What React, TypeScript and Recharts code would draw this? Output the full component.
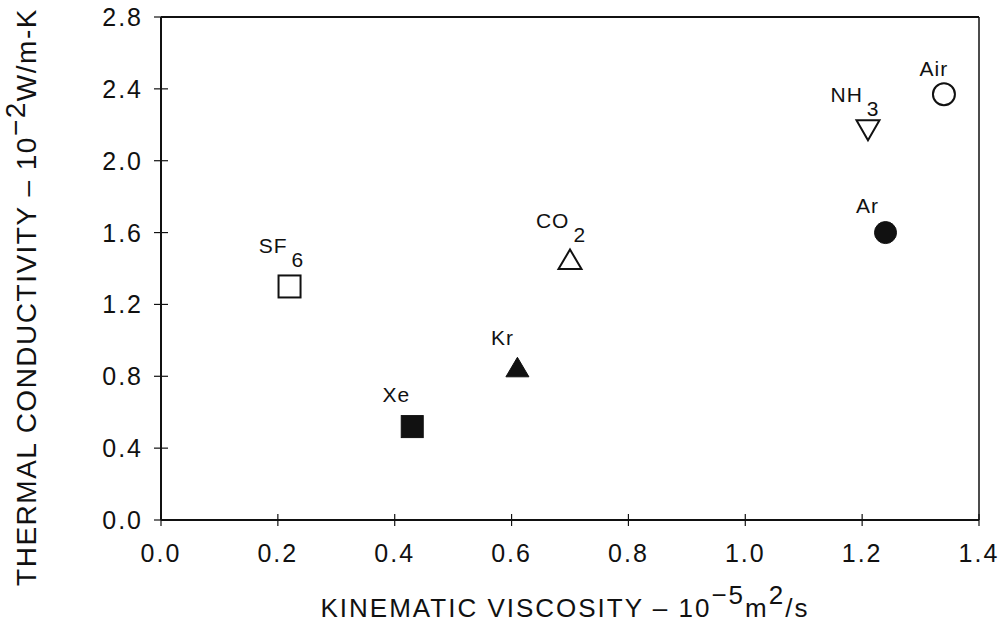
import React from 'react';
import { ScatterChart, Scatter, XAxis, YAxis, ReferenceLine, Label } from 'recharts';

// gas data
const gases = ['SF6', 'Xe', 'Kr', 'CO2', 'Ar', 'NH3', 'Air'];
const viscosity = [0.22, 0.43, 0.61, 0.70, 1.24, 1.21, 1.34];
const conductivity = [1.30, 0.52, 0.85, 1.45, 1.60, 2.17, 2.37];
const labelMain = ['SF', 'Xe', 'Kr', 'CO', 'Ar', 'NH', 'Air'];
const labelSub = ['6', '', '', '2', '', '3', ''];

const xTicks = [0, 0.2, 0.4, 0.6, 0.8, 1.0, 1.2, 1.4];
const yTicks = [0, 0.4, 0.8, 1.2, 1.6, 2.0, 2.4, 2.8];

const FONT = '"Liberation Sans", Arial, sans-serif';
const INK = '#111';

// marker look + label offset from the marker centre
const markerStyle: Record<string, { kind: string; filled: boolean; dx: number; dy: number }> = {
  SF6: { kind: 'square', filled: false, dx: -8, dy: -33 },
  Xe: { kind: 'square', filled: true, dx: -16, dy: -25 },
  Kr: { kind: 'triangle', filled: true, dx: -15, dy: -22 },
  CO2: { kind: 'triangle', filled: false, dx: -9, dy: -32 },
  Ar: { kind: 'circle', filled: true, dx: -18, dy: -20 },
  NH3: { kind: 'triangleDown', filled: false, dx: -13, dy: -28 },
  Air: { kind: 'circle', filled: false, dx: -10, dy: -18 },
};

const data = gases.map((name, i) => ({
  name,
  x: viscosity[i],
  y: conductivity[i],
  main: labelMain[i],
  sub: labelSub[i],
}));

const Marker = (props: any) => {
  const { cx, cy, payload } = props;
  const st = markerStyle[payload.name];
  const fill = st.filled ? INK : '#fff';
  const sw = st.filled ? 1 : 2;
  let mark;
  if (st.kind === 'square') {
    mark = <rect x={cx - 11} y={cy - 11} width={22} height={22} fill={fill} stroke={INK} strokeWidth={sw} />;
  } else if (st.kind === 'circle') {
    mark = <circle cx={cx} cy={cy} r={11} fill={fill} stroke={INK} strokeWidth={sw} />;
  } else if (st.kind === 'triangle') {
    mark = (
      <polygon
        points={`${cx},${cy - 10} ${cx + 11.5},${cy + 9.5} ${cx - 11.5},${cy + 9.5}`}
        fill={fill}
        stroke={INK}
        strokeWidth={sw}
      />
    );
  } else {
    mark = (
      <polygon
        points={`${cx - 11.5},${cy - 10} ${cx + 11.5},${cy - 10} ${cx},${cy + 10}`}
        fill={fill}
        stroke={INK}
        strokeWidth={sw}
      />
    );
  }
  return (
    <g>
      {mark}
      <text
        x={cx + st.dx}
        y={cy + st.dy}
        textAnchor="middle"
        fontFamily={FONT}
        fontSize={21}
        letterSpacing={1}
        fill={INK}
      >
        {payload.main}
        {payload.sub && (
          <tspan dx={4} dy={14}>
            {payload.sub}
          </tspan>
        )}
      </text>
    </g>
  );
};

const XTick = (props: any) => {
  const { x, y, payload } = props;
  return (
    <g>
      <line x1={x} x2={x} y1={y - 26} y2={y - 14} stroke={INK} strokeWidth={1.2} />
      <text x={x} y={y} dy={22} textAnchor="middle" fontFamily={FONT} fontSize={25} letterSpacing={2} fill={INK}>
        {payload.value.toFixed(1)}
      </text>
    </g>
  );
};

const YTick = (props: any) => {
  const { x, y, payload } = props;
  return (
    <g>
      <line x1={x + 11} x2={x + 25} y1={y} y2={y} stroke={INK} strokeWidth={1.2} />
      <text x={x} y={y} dy={9} textAnchor="end" fontFamily={FONT} fontSize={25} letterSpacing={2} fill={INK}>
        {payload.value.toFixed(1)}
      </text>
    </g>
  );
};

const XTitle = (props: any) => {
  const { viewBox } = props;
  const cx = viewBox.x + viewBox.width / 2 - 5;
  return (
    <text x={cx} y={617} textAnchor="middle" fontFamily={FONT} fontSize={26} letterSpacing={2} fill={INK}>
      KINEMATIC VISCOSITY – 10
      <tspan dy={-13}>−5</tspan>
      <tspan dy={13}>m</tspan>
      <tspan dy={-13}>2</tspan>
      <tspan dy={13}>/s</tspan>
    </text>
  );
};

const YTitle = () => {
  const cx = 36;
  const cy = 297;
  return (
    <text
      x={cx}
      y={cy}
      transform={`rotate(-90, ${cx}, ${cy})`}
      textAnchor="middle"
      fontFamily={FONT}
      fontSize={28}
      letterSpacing={1.5}
      fill={INK}
    >
      THERMAL CONDUCTIVITY – 10
      <tspan dy={-11}>−2</tspan>
      <tspan dy={11}>W/m-K</tspan>
    </text>
  );
};

export default function App() {
  return (
    <div style={{ position: 'absolute', left: 0, top: 0, background: '#fff' }}>
      <ScatterChart width={1004} height={637} margin={{ top: 17, right: 25, bottom: 0, left: 0 }}>
        <XAxis
          type="number"
          dataKey="x"
          domain={[0, 1.4]}
          ticks={xTicks}
          interval={0}
          height={117}
          tickSize={0}
          tickMargin={20}
          tickLine={false}
          tick={<XTick />}
          axisLine={{ stroke: INK, strokeWidth: 2 }}
        >
          <Label content={<XTitle />} />
        </XAxis>
        <YAxis
          type="number"
          dataKey="y"
          domain={[0, 2.8]}
          ticks={yTicks}
          interval={0}
          width={161}
          tickSize={0}
          tickMargin={18}
          tickLine={false}
          tick={<YTick />}
          axisLine={{ stroke: INK, strokeWidth: 2 }}
        >
          <Label content={<YTitle />} />
        </YAxis>
        <ReferenceLine y={2.8} stroke={INK} strokeWidth={2} />
        <ReferenceLine x={1.4} stroke={INK} strokeWidth={1.5} />
        <Scatter data={data} shape={<Marker />} isAnimationActive={false} />
      </ScatterChart>
    </div>
  );
}
